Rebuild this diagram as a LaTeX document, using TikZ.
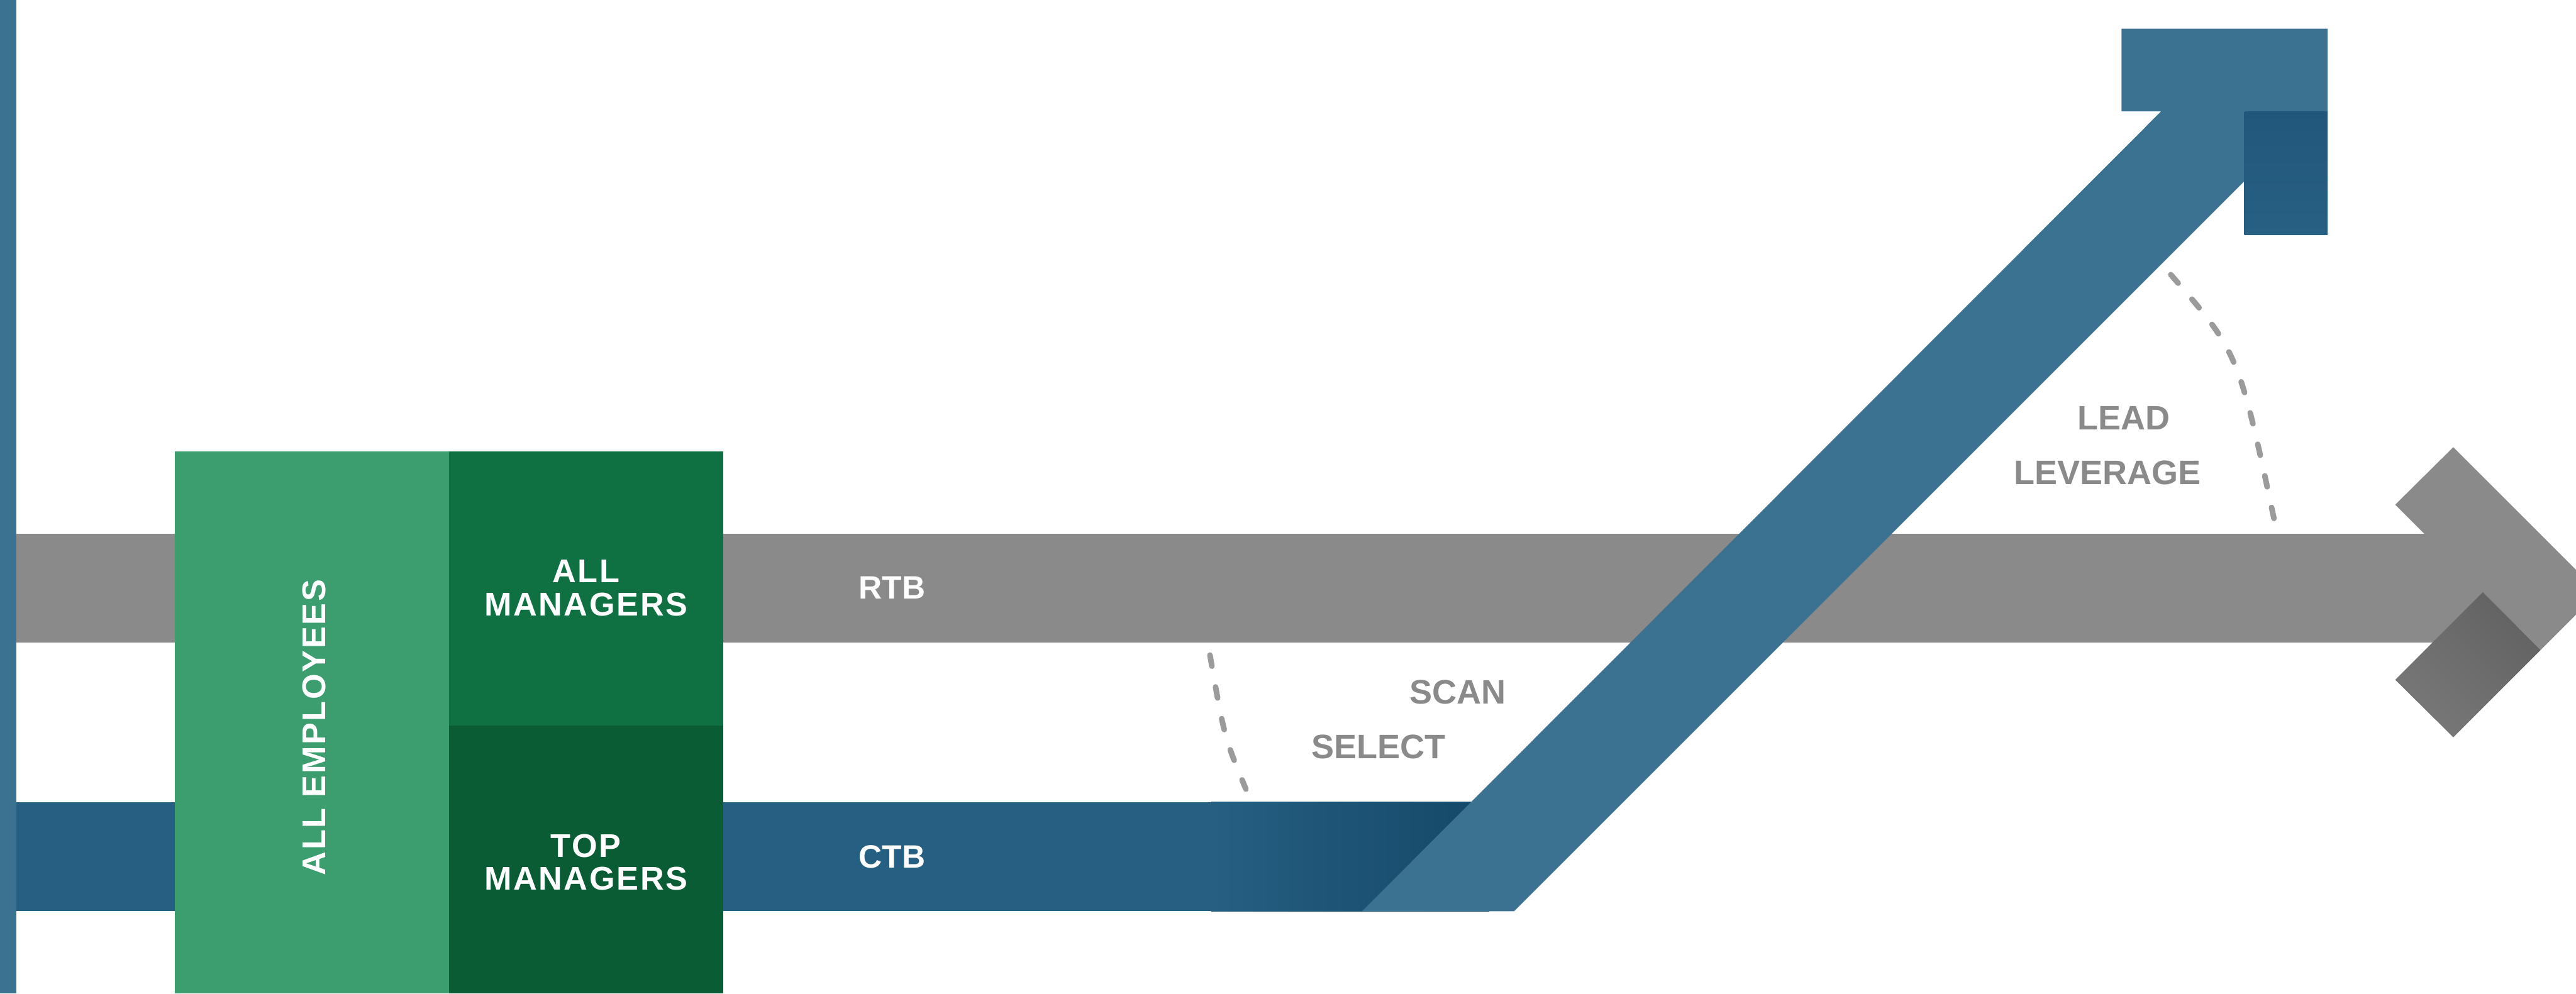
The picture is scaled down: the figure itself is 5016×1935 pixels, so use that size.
\documentclass[tikz,border=0pt]{standalone}
\usepackage{fontspec}
\setmainfont{Liberation Sans}
\newfontfamily\wfont{Liberation Sans}[LetterSpace=5]
\definecolor{steel}{HTML}{3B7191}
\definecolor{steeldarkA}{HTML}{21577A}
\definecolor{steeldarkB}{HTML}{276083}
\definecolor{bandblue}{HTML}{255F82}
\definecolor{banddark}{HTML}{154868}
\definecolor{rtbgray}{HTML}{8A8A8A}
\definecolor{armlight}{HTML}{787878}
\definecolor{armdark}{HTML}{626262}
\definecolor{greenA}{HTML}{3C9E6E}
\definecolor{greenB}{HTML}{0F7141}
\definecolor{greenC}{HTML}{095C34}
\definecolor{dashgray}{HTML}{9B9B9B}
\definecolor{labelgray}{HTML}{8A8A8A}
\begin{document}
\begin{tikzpicture}[x=0.01cm,y=-0.01cm,
  graylabel/.style={inner sep=0pt, text=labelgray, font=\fontsize{18.8pt}{20pt}\selectfont\bfseries},
  whitelabel/.style={inner sep=0pt, text=white, font=\wfont\fontsize{18.2pt}{20pt}\selectfont\bfseries},
  bandlabel/.style={inner sep=0pt, text=white, font=\fontsize{17.9pt}{20pt}\selectfont\bfseries},
  dasharc/.style={draw=dashgray, line width=3.1pt, line cap=round, dash pattern=on 6.2pt off 11.7pt}]
\useasboundingbox (0,0) rectangle (5016,1935);
\fill[white] (0,0) rectangle (5016,1935);
\clip (0,0) rectangle (5016,1935);

% RTB band (gray)
\fill[rtbgray] (32,1040) rectangle (4900,1252);
% CTB band (blue) with darkening end
\fill[bandblue] (32,1562) rectangle (2360,1775);
\shade[left color=bandblue, right color=banddark] (2358,1562) rectangle (2900,1775);

% green blocks
\fill[greenA] (341,879) rectangle (874,1935);
\fill[greenB] (874,879) rectangle (1408,1413);
\fill[greenC] (874,1413) rectangle (1408,1935);

% rising diagonal arrow
\fill[steel] (2652,1775) -- (4208,217) -- (4131,217) -- (4131,56) -- (4532,56)
  -- (4532,217) -- (4370,217) -- (4370,353) -- (2948,1775) -- cycle;
\shade[top color=steeldarkA, bottom color=steeldarkB] (4370,217) rectangle (4532,457);

% RTB chevron head
\fill[rtbgray] (4664,983) -- (4777,871) -- (5059.5,1153.5) -- (4947,1266) -- (4834.5,1153.5) -- cycle;
\shade[top color=armdark, bottom color=armlight, shading angle=-45]
  (4834.5,1153.5) -- (4947,1266) -- (4777,1436) -- (4664,1324) -- cycle;

% left edge bar
\fill[steel] (0,0) rectangle (32,1935);

% dashed angle arcs
\coordinate (lowA) at (2356,1276);
\coordinate (lowB) at (2426,1537);
\coordinate (upA) at (4227,535);
\coordinate (upB) at (4431,1025);
\draw[dasharc] (lowA) .. controls (2384,1436) .. (lowB);
\draw[dasharc] (upA) .. controls (4359,687) .. (upB);

% labels
\node[bandlabel, anchor=base] (rtb) at (1737,1167) {RTB};
\node[bandlabel, anchor=base] (ctb) at (1737,1690) {CTB};
\node[whitelabel, anchor=base] (allA) at (1141,1135) {ALL};
\node[whitelabel, anchor=base] (allB) at (1141,1200) {MANAGERS};
\node[whitelabel, anchor=base] (topA) at (1141,1670) {TOP};
\node[whitelabel, anchor=base] (topB) at (1141,1734) {MANAGERS};
\node[whitelabel, anchor=base, rotate=90] (emp) at (634,1417) {ALL EMPLOYEES};
\node[graylabel, anchor=base] (scan) at (2839,1371) {SCAN};
\node[graylabel, anchor=base] (select) at (2684,1478) {SELECT};
\node[graylabel, anchor=base] (lead) at (4135,837) {LEAD};
\node[graylabel, anchor=base] (leverage) at (4104,943) {LEVERAGE};
\end{tikzpicture}
\end{document}
